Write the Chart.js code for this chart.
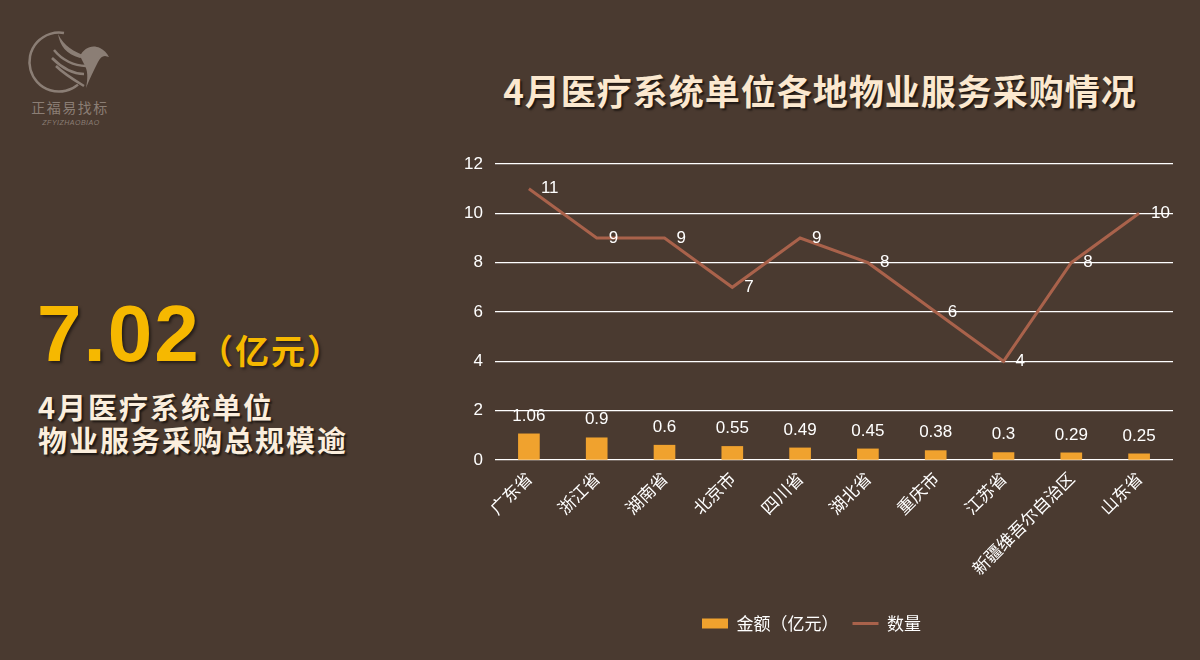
<!DOCTYPE html>
<html>
<head>
<meta charset="utf-8">
<script src="https://cdn.jsdelivr.net/npm/chart.js@4.4.1/dist/chart.umd.min.js"></script>
<style>
  html, body { margin: 0; padding: 0; }
  body {
    width: 1200px; height: 660px; overflow: hidden;
    background: #4a3a30; position: relative;
    font-family: "Noto Sans CJK SC", "Liberation Sans", sans-serif;
  }
  #chart-box { position: absolute; left: 0; top: 0; width: 1200px; height: 660px; }
  .title {
    position: absolute; left: 440px; top: 70px; width: 760px; text-align: center;
    color: #fbe8cf; font-size: 35px; line-height: 40px; font-weight: bold; letter-spacing: 1px;
    text-shadow: 2px 2px 2px rgba(0,0,0,0.6);
  }
  .big {
    position: absolute; left: 37px; top: 294px; color: #f6b800;
    font-family: "Liberation Sans", Arial, sans-serif; font-weight: bold;
    font-size: 80px; line-height: 80px; letter-spacing: 2px;
    text-shadow: 2px 2px 3px rgba(0,0,0,0.5);
  }
  .unit {
    position: absolute; left: 199px; top: 325px; color: #f6b800;
    font-size: 34px; font-weight: bold; letter-spacing: 2px;
    text-shadow: 2px 2px 3px rgba(0,0,0,0.5);
  }
  .desc {
    position: absolute; left: 38px; top: 390px; color: #fbeedd;
    font-size: 29px; font-weight: bold; line-height: 33px; letter-spacing: 2px;
    text-shadow: 2px 2px 2px rgba(0,0,0,0.6);
  }
  .logo { position: absolute; left: 0; top: 0; width: 130px; height: 135px; }
</style>
</head>
<body>
<svg class="logo" viewBox="0 0 130 135">
  <path d="M 64 33 A 29.5 29.5 0 1 0 78 84.6" fill="none" stroke="#8b7e75" stroke-width="2.5"/>
  <path d="M 58 34 C 60 46, 66 54, 80 58 L 86 56 C 74 52, 64 46, 58 34 Z" fill="#8b7e75"/>
  <path d="M 80 56 C 84 48, 92 44, 100 48 C 104 50, 107 53, 109 57 L 105 56 C 102 56, 100 58, 98 62 C 94 70, 90 78, 86 88 C 88 78, 88 70, 84 64 Z" fill="#8b7e75"/>
  <path d="M 54 50 C 62 60, 74 66, 86 66 M 52 58 C 62 68, 72 74, 84 74 M 56 66 C 64 74, 74 80, 84 86" fill="none" stroke="#8b7e75" stroke-width="2.5"/>
  <text x="70" y="113" text-anchor="middle" font-size="14" fill="#8b7e75" font-family="Noto Sans CJK SC" letter-spacing="1.5">正福易找标</text>
  <text x="71" y="125" text-anchor="middle" font-size="7" fill="#8b7e75" font-family="Liberation Sans" font-style="italic" letter-spacing="0.5">ZFYIZHAOBIAO</text>
</svg>
<div class="title">4月医疗系统单位各地物业服务采购情况</div>
<div class="big">7.02</div>
<div class="unit">（亿元）</div>
<div class="desc">4月医疗系统单位<br>物业服务采购总规模逾</div>
<div id="chart-box"><canvas id="chart"></canvas></div>
<script>
// Data
const regions = ['广东省', '浙江省', '湖南省', '北京市', '四川省', '湖北省', '重庆市', '江苏省', '新疆维吾尔自治区', '山东省'];
const amounts = [1.06, 0.9, 0.6, 0.55, 0.49, 0.45, 0.38, 0.3, 0.29, 0.25];
const counts = [11, 9, 9, 7, 9, 8, 6, 4, 8, 10];
const yTicks = [0, 2, 4, 6, 8, 10, 12];

const numFont = '"Liberation Sans", Arial, sans-serif';
const cjkFont = '"Noto Sans CJK SC", sans-serif';

// value labels drawn above bars and right of line points
const valueLabels = {
    id: 'valueLabels',
    afterDatasetsDraw(chart) {
        const ctx = chart.ctx;
        ctx.save();
        ctx.fillStyle = '#ffffff';
        ctx.font = '17px ' + numFont;
        ctx.textBaseline = 'middle';

        const barMeta = chart.getDatasetMeta(0);
        ctx.textAlign = 'center';
        barMeta.data.forEach((bar, i) => {
            ctx.fillText(String(amounts[i]), bar.x, bar.y - 18);
        });

        const lineMeta = chart.getDatasetMeta(1);
        ctx.textAlign = 'left';
        lineMeta.data.forEach((pt, i) => {
            ctx.fillText(String(counts[i]), pt.x + 12, pt.y);
        });
        ctx.restore();
    }
};

const ctx = document.getElementById('chart').getContext('2d');
new Chart(ctx, {
    data: {
        labels: regions,
        datasets: [
            {
                type: 'bar',
                label: '金额（亿元）',
                data: amounts,
                backgroundColor: '#f0a22e',
                barThickness: 21,
                pointStyle: 'rect',
                order: 2
            },
            {
                type: 'line',
                label: '数量',
                data: counts,
                borderColor: '#a9624b',
                backgroundColor: '#a9624b',
                borderWidth: 3,
                pointRadius: 0,
                pointHoverRadius: 0,
                pointStyle: 'line',
                pointBorderWidth: 3,
                tension: 0,
                order: 1
            }
        ]
    },
    options: {
        responsive: true,
        maintainAspectRatio: false,
        animation: false,
        layout: { padding: { left: 450, right: 27, top: 164, bottom: 18 } },
        plugins: {
            legend: {
                position: 'bottom',
                reverse: true,
                labels: {
                    usePointStyle: true,
                    pointStyleWidth: 26,
                    boxHeight: 10,
                    color: '#ffffff',
                    font: { size: 17, family: cjkFont },
                    padding: 14
                }
            },
            tooltip: { enabled: false }
        },
        scales: {
            x: {
                grid: { display: false },
                border: { display: false },
                ticks: {
                    color: '#ffffff',
                    font: { size: 17, family: cjkFont },
                    maxRotation: 45,
                    minRotation: 45,
                    padding: 0
                },
                afterFit(scale) { scale.height = 141; }
            },
            y: {
                min: 0,
                max: 12,
                afterBuildTicks(scale) { scale.ticks = yTicks.map(v => ({ value: v })); },
                grid: { color: '#ffffff', lineWidth: 1.2, drawTicks: false },
                border: { display: false },
                ticks: {
                    color: '#ffffff',
                    font: { size: 17, family: numFont },
                    padding: 12
                },
                afterFit(scale) { scale.width = 45; }
            }
        }
    },
    plugins: [valueLabels]
});
</script>
</body>
</html>
